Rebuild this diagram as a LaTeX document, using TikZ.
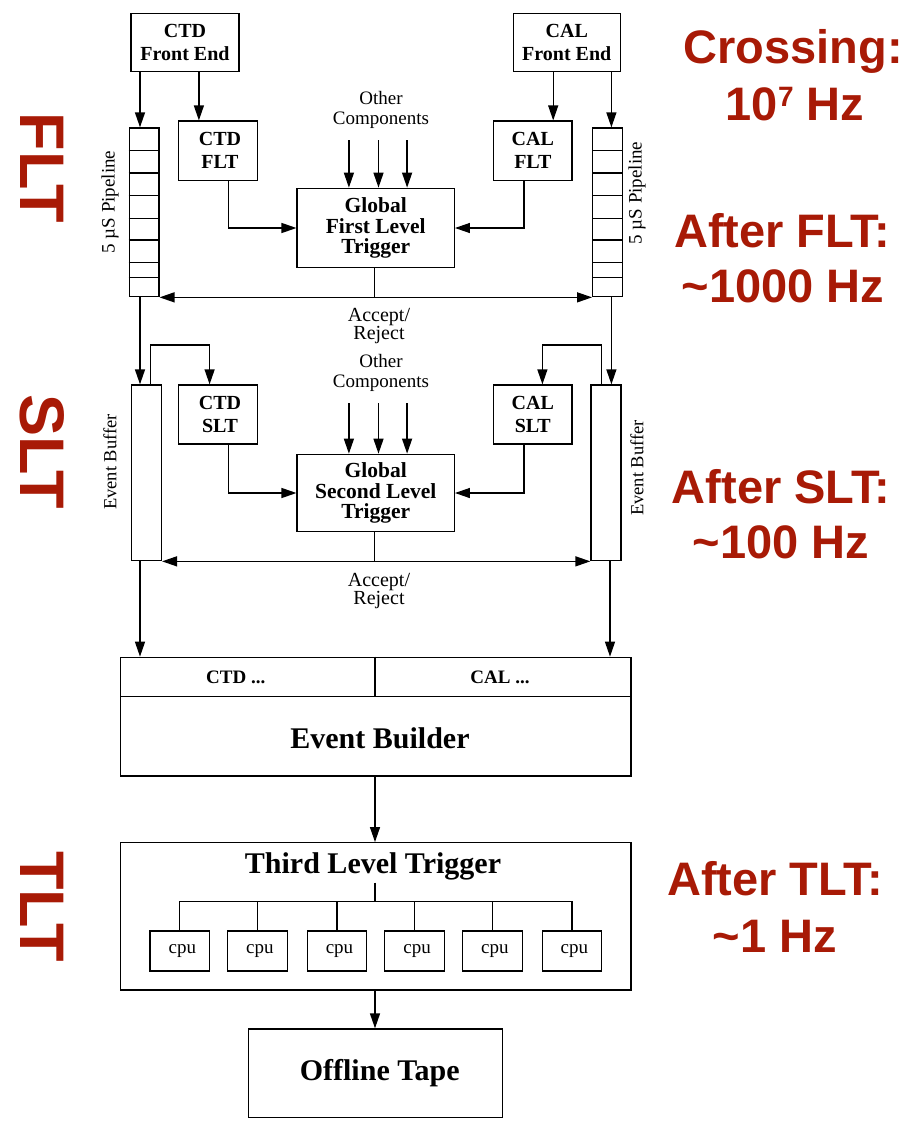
\documentclass[tikz,border=0pt]{standalone}
\usepackage{fontspec}
\setmainfont{Liberation Serif}
\newfontfamily\redfont{Liberation Sans}
\usetikzlibrary{arrows.meta}
\definecolor{zred}{RGB}{168,26,6}
\begin{document}
\begin{tikzpicture}[x=1pt,y=-1pt,
  line width=1.3pt,
  box/.style={draw, line width=1.3pt, inner sep=0pt, align=center},
  arr/.style={-{Triangle[length=15pt,width=10pt]}},
  barr/.style={{Triangle[length=15pt,width=10pt]}-{Triangle[length=15pt,width=10pt]}},
  lbl/.style={font=\fontsize{20}{14.5}\selectfont, align=center, inner sep=0pt},
  small/.style={font=\fontsize{20}{23}\selectfont\bfseries},
  big/.style={font=\fontsize{21.5}{20.5}\selectfont\bfseries},
  huge/.style={font=\fontsize{30}{30}\selectfont\bfseries},
  side/.style={font=\fontsize{19}{19}\selectfont, rotate=90, inner sep=0pt},
  redlab/.style={font=\redfont\bfseries\fontsize{47}{57}\selectfont, text=zred, anchor=base, inner sep=0pt},
  redside/.style={font=\redfont\bfseries\fontsize{63}{63}\selectfont, text=zred, rotate=-90, inner sep=0pt}
]
\useasboundingbox (0,0) rectangle (914,1125);

% ---------- red labels ----------
\node[redside] (fltlab) at (42,168) {FLT};
\node[redside] (sltlab) at (42,452) {SLT};
\node[redside] (tltlab) at (42,906.5) {TLT};

\node[redlab] (cr1) at (793,63) {Crossing:};
\node[redlab] (cr2) at (795,120) {10\raisebox{14pt}{\fontsize{28}{28}\selectfont 7} Hz};
\node[redlab] (af1) at (782,247) {After FLT:};
\node[redlab] (af2) at (783,302) {\textasciitilde1000 Hz};
\node[redlab] (as1) at (781,503) {After SLT:};
\node[redlab] (as2) at (781,558) {\textasciitilde100 Hz};
\node[redlab] (at1) at (775,895) {After TLT:};
\node[redlab] (at2) at (775,952) {\textasciitilde1 Hz};

% ---------- first level ----------
\node[box, small, minimum width=108pt, minimum height=58.4pt] (ctdfe) at (185,42.5) {CTD\\Front End};
\node[box, small, minimum width=107pt, minimum height=58.4pt] (calfe) at (566.75,42.5) {CAL\\Front End};
\node[box, small, minimum width=79.6pt, minimum height=59.3pt] (ctdflt) at (218,150.7) {\hspace*{4pt}CTD\\\hspace*{4pt}FLT};
\node[box, small, minimum width=78.6pt, minimum height=59.3pt] (calflt) at (532.8,150.7) {CAL\\FLT};
\node[box, big, minimum width=157.2pt, minimum height=79.4pt] (gflt) at (375.7,228) {Global\\First Level\\Trigger};
\node[lbl, font=\fontsize{19}{20}\selectfont] (oc1) at (381,110) {Other\\Components};

% pipelines
\node[box, minimum width=29.6pt, minimum height=168.7pt] (pipeL) at (144.1,212.35) {};
\node[box, minimum width=29.6pt, minimum height=168.7pt] (pipeR) at (607.5,212.35) {};
\foreach \yy in {150.7,173,195.3,218.3,240,262.7,277.8} {
  \draw[line width=1.2pt] (pipeL.west |- 0,\yy) -- (pipeL.east |- 0,\yy);
  \draw[line width=1.2pt] (pipeR.west |- 0,\yy) -- (pipeR.east |- 0,\yy);
}
\node[side] (plabL) at (110,202) {5 \textmu S Pipeline};
\node[side] (plabR) at (637,193) {5 \textmu S Pipeline};

% arrows first level
\draw[arr] (ctdfe.south -| 140,0) -- (pipeL.north -| 140,0);
\draw[arr] (ctdfe.south -| 198.9,0) -- (ctdflt.north -| 198.9,0);
\draw[arr] (calfe.south -| 553.2,0) -- (calflt.north -| 553.2,0);
\draw[arr] (calfe.south -| 611.4,0) -- (pipeR.north -| 611.4,0);
\foreach \xx in {348.9,378.5,407.1} {
  \draw[arr] (\xx,140) -- (gflt.north -| \xx,0);
}
\draw[arr] (ctdflt.south -| 228.2,0) |- (gflt.west);
\draw[arr] (calflt.south -| 523.9,0) |- (gflt.east);
\coordinate (acc1) at (374.6,296.7);
\draw (gflt.south -| acc1) -- (acc1);
\draw[barr] (pipeL.south east) -- (pipeR.south west);
\node[lbl] (ar1) at (379,326) {Accept/\\Reject};

% ---------- second level ----------
\node[box, minimum width=29.6pt, minimum height=175.7pt] (bufL) at (146.6,472.85) {};
\node[box, minimum width=30pt, minimum height=175.7pt] (bufR) at (606,472.85) {};
\node[side, font=\fontsize{18.5}{19}\selectfont] (blabL) at (110,462) {Event Buffer};
\node[side, font=\fontsize{18.5}{19}\selectfont] (blabR) at (637,468) {Event Buffer};

\node[box, small, minimum width=79.6pt, minimum height=59pt] (ctdslt) at (218,414.5) {\hspace*{4pt}CTD\\\hspace*{4pt}SLT};
\node[box, small, minimum width=78.6pt, minimum height=59pt] (calslt) at (532.8,414.5) {CAL\\SLT};
\node[box, big, minimum width=157.2pt, minimum height=77.4pt] (gslt) at (375.7,493) {Global\\Second Level\\Trigger};
\node[lbl, font=\fontsize{19}{20}\selectfont] (oc2) at (381,373) {Other\\Components};

\draw[arr] (pipeL.south -| 140,0) -- (bufL.north -| 140,0);
\draw[arr] (pipeR.south -| 611.4,0) -- (bufR.north -| 611.4,0);
\draw[arr] (bufL.north -| 150.7,0) -- (150.7,345) -- (209.6,345) -- (ctdslt.north -| 209.6,0);
\draw[arr] (bufR.north -| 601.4,0) -- (601.4,345) -- (542.4,345) -- (calslt.north -| 542.4,0);
\foreach \xx in {348.9,378.5,407.1} {
  \draw[arr] (\xx,403.3) -- (gslt.north -| \xx,0);
}
\draw[arr] (ctdslt.south -| 228.2,0) |- (gslt.west);
\draw[arr] (calslt.south -| 523.9,0) |- (gslt.east);
\coordinate (acc2) at (374.6,560.7);
\draw (gslt.south -| acc2) -- (acc2);
\draw[barr] (bufL.south east) -- (bufR.south west);
\node[lbl] (ar2) at (379,591) {Accept/\\Reject};

% ---------- event builder ----------
\node[box, minimum width=510.3pt, minimum height=118.7pt] (eb) at (375.85,716.65) {};
\draw (eb.west |- 0,696.7) -- (eb.east |- 0,696.7);
\draw (eb.north -| 375,0) -- (375,696.7);
\node[font=\fontsize{19}{19}\selectfont\bfseries, inner sep=0pt] (ebctd) at (235.7,677) {CTD ...};
\node[font=\fontsize{19}{19}\selectfont\bfseries, inner sep=0pt] (ebcal) at (500,677) {CAL ...};
\node[huge, inner sep=0pt] (ebtxt) at (380,738) {Event Builder};

\draw[arr] (bufL.south -| 140,0) -- (eb.north -| 140,0);
\draw[arr] (bufR.south -| 610,0) -- (eb.north -| 610,0);

% ---------- third level ----------
\node[box, minimum width=510.3pt, minimum height=147.3pt] (tlt) at (375.85,916.35) {};
\node[huge, inner sep=0pt] (tlttxt) at (373,866.7) {Third Level Trigger};
\draw[arr] (eb.south -| 375,0) -- (tlt.north -| 375,0);

\coordinate (hub) at (375,882.7);
\coordinate (hubb) at (375,901.7);
\draw[line width=1.2pt] (hub) -- (hubb);
\foreach \cx [count=\i] in {179.8,257.3,337,414.6,492.3,571.9} {
  \node[box, line width=1.2pt, minimum width=59.6pt, minimum height=40pt, font=\fontsize{19}{19}\selectfont] (cpu\i) at (\cx,951) {\hspace*{5pt}cpu};
}
\draw[line width=1.2pt] (cpu1.north) |- (hubb) -| (cpu6.north);
\foreach \i in {2,3,4,5} {
  \draw[line width=1.2pt] (cpu\i.north) -- (cpu\i.north |- hubb);
}

% ---------- offline tape ----------
\node[box, huge, minimum width=254.2pt, minimum height=88.3pt] (tape) at (375.7,1073.15) {\hspace*{8pt}Offline Tape};
\draw[arr] (tlt.south -| 375,0) -- (tape.north -| 375,0);

\end{tikzpicture}
\end{document}
